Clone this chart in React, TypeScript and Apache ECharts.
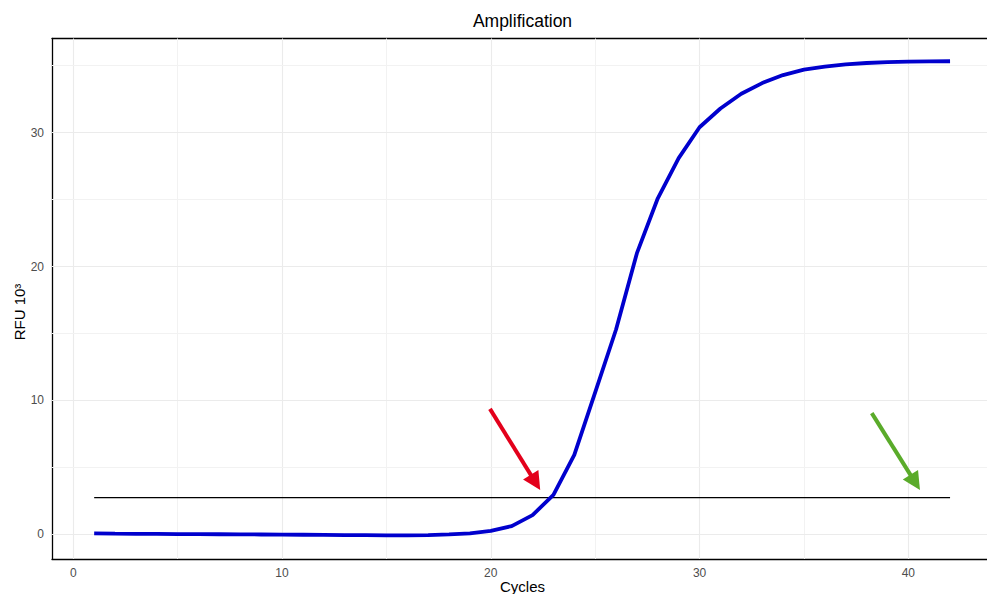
import React, { useEffect, useRef } from "react";
import * as echarts from "echarts";

const cycles = [1, 2, 3, 4, 5, 6, 7, 8, 9, 10, 11, 12, 13, 14, 15, 16, 17, 18, 19, 20, 21, 22, 23, 24, 25, 26, 27, 28, 29, 30, 31, 32, 33, 34, 35, 36, 37, 38, 39, 40, 41, 42];
const rfu = [0.08, 0.05, 0.03, 0.03, 0.02, 0.02, 0.01, 0.0, -0.01, -0.02, -0.03, -0.04, -0.05, -0.06, -0.07, -0.07, -0.05, 0.0, 0.08, 0.26, 0.62, 1.44, 2.94, 5.93, 10.6, 15.3, 21.0, 25.1, 28.1, 30.4, 31.8, 32.9, 33.7, 34.3, 34.7, 34.93, 35.1, 35.2, 35.27, 35.3, 35.32, 35.33];
const threshold = 2.74;
const thresholdRange = [1, 42];
const redArrow = [[19.96, 9.37], [22.14, 3.88]];
const greenArrow = [[38.25, 9.05], [40.33, 3.88]];
const xMajor = [0, 10, 20, 30, 40];
const xMinor = [5, 15, 25, 35];
const yMajor = [0, 10, 20, 30];
const yMinor = [5, 15, 25, 35];
const xRange = [-1.02, 43.77];
const yRange = [-1.84, 37.03];

const FONT = "'Liberation Sans', Arial, Helvetica, sans-serif";

export default function App() {
  const ref = useRef<HTMLDivElement>(null);
  useEffect(() => {
    if (!ref.current) return;
    const chart = echarts.init(ref.current, null, { renderer: "svg" });
    const gridLines: any[] = [];
    xMajor.forEach((v) => gridLines.push({ xAxis: v, lineStyle: { color: "#ebebeb", width: 1.1, type: "solid" } }));
    xMinor.forEach((v) => gridLines.push({ xAxis: v, lineStyle: { color: "#f2f2f2", width: 1, type: "solid" } }));
    yMajor.forEach((v) => gridLines.push({ yAxis: v, lineStyle: { color: "#ebebeb", width: 1.1, type: "solid" } }));
    yMinor.forEach((v) => gridLines.push({ yAxis: v, lineStyle: { color: "#f2f2f2", width: 1, type: "solid" } }));

    const labelFmt = (v: number) => (Math.abs(v % 10) < 1e-9 ? String(v) : "");

    chart.setOption({
      animation: false,
      grid: {
        left: 52,
        top: 38.5,
        right: 0,
        height: 520.5,
        show: false,
      },
      xAxis: [
        {
          type: "value",
          position: "bottom",
          min: xRange[0],
          max: xRange[1],
          axisLine: { show: true, onZero: false, lineStyle: { color: "#000", width: 1.3 } },
          axisTick: { show: false },
          splitLine: { show: false },
          axisLabel: {
            customValues: xMajor,
            color: "#4d4d4d",
            fontSize: 12,
            fontFamily: FONT,
            margin: 8,
            formatter: labelFmt,
          },
        },
        {
          type: "value",
          position: "top",
          min: xRange[0],
          max: xRange[1],
          axisLine: { show: true, onZero: false, lineStyle: { color: "#000", width: 1.3 } },
          axisTick: { show: false },
          splitLine: { show: false },
          axisLabel: { show: false },
        },
      ],
      yAxis: {
        type: "value",
        min: yRange[0],
        max: yRange[1],
        axisLine: { show: true, onZero: false, lineStyle: { color: "#000", width: 1.3 } },
        axisTick: { show: false },
        splitLine: { show: false },
        axisLabel: {
          customValues: yMajor,
          color: "#4d4d4d",
          fontSize: 12,
          fontFamily: FONT,
          margin: 8,
          formatter: labelFmt,
        },
      },
      graphic: [
        {
          type: "text",
          x: 522.5,
          y: 21,
          style: { text: "Amplification", fill: "#000", font: `17.5px ${FONT}`, textAlign: "center", textVerticalAlign: "middle" },
        },
        {
          type: "text",
          x: 522.5,
          y: 586,
          style: { text: "Cycles", fill: "#000", font: `15px ${FONT}`, textAlign: "center", textVerticalAlign: "middle" },
        },
        {
          type: "text",
          x: 19,
          y: 312,
          rotation: Math.PI / 2,
          style: { text: "RFU 10³", fill: "#000", font: `15px ${FONT}`, textAlign: "center", textVerticalAlign: "middle" },
        },
      ],
      series: [
        {
          type: "line",
          data: [],
          silent: true,
          markLine: {
            silent: true,
            symbol: ["none", "none"],
            label: { show: false },
            z: 1,
            data: gridLines,
          },
        },
        {
          type: "line",
          data: thresholdRange.map((x) => [x, threshold]),
          showSymbol: false,
          lineStyle: { color: "#000", width: 1.3 },
          z: 3,
        },
        {
          type: "line",
          data: cycles.map((c, i) => [c, rfu[i]]),
          showSymbol: false,
          lineStyle: { color: "#0000cd", width: 3.8 },
          z: 4,
        },
        {
          type: "lines",
          coordinateSystem: "cartesian2d",
          symbol: ["none", "triangle"],
          symbolSize: 18,
          z: 5,
          data: [
            { coords: redArrow, lineStyle: { color: "#e3001b", width: 4, opacity: 1 } },
            { coords: greenArrow, lineStyle: { color: "#5aab2a", width: 4, opacity: 1 } },
          ],
        },
      ],
    });
    return () => chart.dispose();
  }, []);
  return <div ref={ref} style={{ width: 987, height: 594, position: "absolute", left: 0, top: 0 }} />;
}
